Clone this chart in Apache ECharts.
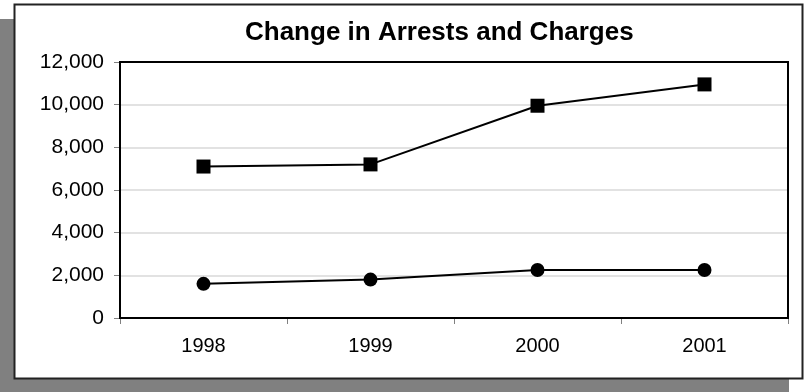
<!DOCTYPE html>
<html>
<head>
<meta charset="utf-8">
<script src="https://cdn.jsdelivr.net/npm/echarts@6/dist/echarts.min.js"></script>
<style>
  html, body { margin: 0; padding: 0; background: #ffffff; }
  #chart { width: 808px; height: 392px; }
</style>
</head>
<body>
<div id="chart"></div>
<script>
// Yearly totals
const years = ['1998', '1999', '2000', '2001'];
const charges = [7100, 7200, 9950, 10950];
const arrests = [1600, 1800, 2250, 2250];

const chart = echarts.init(document.getElementById('chart'), null, { renderer: 'canvas' });

const fontFamily = '"Liberation Sans", Arial, sans-serif';
const plot = { left: 120, top: 62, width: 668, height: 256 };

chart.setOption({
  animation: false,
  backgroundColor: '#ffffff',
  graphic: [
    // drop shadow behind the frame
    { type: 'rect', z: -10, shape: { x: 0, y: 19, width: 789, height: 376 }, style: { fill: '#808080' }, silent: true },
    // chart frame
    { type: 'rect', z: -9, shape: { x: 14.5, y: 4.5, width: 788, height: 374 }, style: { fill: '#ffffff', stroke: '#222222', lineWidth: 2 }, silent: true },
    // plot area border
    { type: 'rect', z: 1, shape: { x: plot.left, y: plot.top, width: plot.width, height: plot.height },
      style: { fill: null, stroke: '#000000', lineWidth: 2 }, silent: true },
    // title
    { type: 'text', z: 10, left: 245, top: 20,
      style: { text: 'Change in Arrests and Charges', font: 'bold 26px ' + fontFamily, fill: '#000000' } }
  ],
  grid: {
    left: plot.left, top: plot.top, width: plot.width, height: plot.height,
    show: false
  },
  xAxis: {
    type: 'category',
    data: years,
    boundaryGap: true,
    axisLine: { show: true, lineStyle: { color: '#000000', width: 2 } },
    axisTick: { show: true, alignWithLabel: false, length: 6, inside: false, lineStyle: { color: '#808080', width: 1 } },
    axisLabel: { color: '#000000', fontSize: 20, fontFamily: fontFamily, margin: 18 },
    splitLine: { show: false }
  },
  yAxis: {
    type: 'value',
    min: 0, max: 12000, interval: 2000,
    axisLine: { show: true, lineStyle: { color: '#000000', width: 2 } },
    axisTick: { show: true, length: 6, lineStyle: { color: '#808080', width: 1 } },
    axisLabel: {
      color: '#000000', fontSize: 21, fontFamily: fontFamily, margin: 16,
      formatter: v => v.toLocaleString('en-US')
    },
    splitLine: { show: true, lineStyle: { color: '#d9d9d9', width: 1.5 } }
  },
  series: [
    {
      name: 'Charges', type: 'line', data: charges,
      symbol: 'rect', symbolSize: 14,
      lineStyle: { color: '#000000', width: 2 },
      itemStyle: { color: '#000000' }
    },
    {
      name: 'Arrests', type: 'line', data: arrests,
      symbol: 'circle', symbolSize: 14,
      lineStyle: { color: '#000000', width: 2 },
      itemStyle: { color: '#000000' }
    }
  ]
});
</script>
</body>
</html>
